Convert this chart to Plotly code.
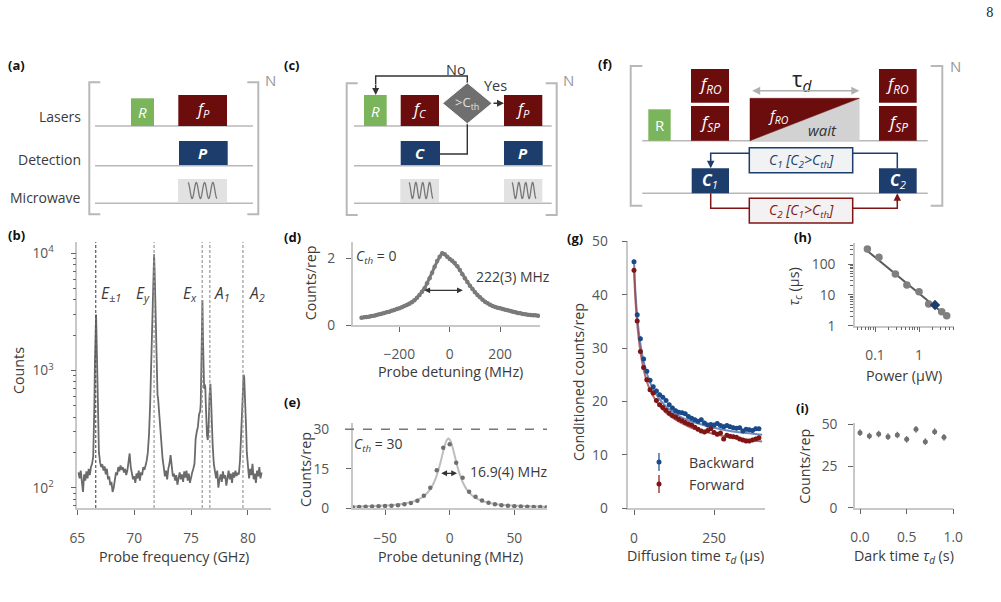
import plotly.graph_objects as go

W, H = 1001, 602
def px(x): return x / W
def py(y): return 1 - y / H

FONT = "Open Sans"
TICK_C = "#555555"
TITLE_C = "#3a3a3a"
SPINE_C = "#c8c8c8"
RED = "#6b0d0d"
NAVY = "#1d3d6d"
GREEN = "#7ab55c"
LGRAY = "#e2e2e2"
BGRAY = "#b8b8b8"
TSIZE = 14.3

# ---------------- data ----------------
# (b) spectrum
freq_ghz = [65.1, 65.2, 65.3, 65.4, 65.5, 65.6, 65.7, 65.8, 65.9, 66.0, 66.1, 66.2, 66.3,
            66.4, 66.45, 66.5, 66.55, 66.6, 66.65, 66.7, 66.75, 66.8, 66.85, 66.9, 67.0,
            67.1, 67.2, 67.3, 67.4, 67.5, 67.6, 67.7, 67.8, 67.9, 68.0, 68.1, 68.2, 68.3, 68.4,
            68.5, 68.6, 68.7, 68.8, 68.9, 69.0, 69.1, 69.2, 69.3, 69.4, 69.5, 69.6, 69.7, 69.8,
            69.9, 70.0, 70.1, 70.2, 70.3, 70.4, 70.5, 70.6, 70.7, 70.8, 70.9, 71.0, 71.1, 71.2,
            71.3, 71.4, 71.5, 71.55, 71.6, 71.65, 71.7, 71.75, 71.8, 71.85, 71.9, 71.95, 72.0,
            72.05, 72.1, 72.15, 72.2, 72.3, 72.4, 72.5, 72.6, 72.7, 72.8, 72.9, 73.0, 73.1, 73.2,
            73.3, 73.4, 73.5, 73.6, 73.7, 73.8, 73.9, 74.0, 74.1, 74.2, 74.3, 74.4, 74.5, 74.6,
            74.7, 74.8, 74.9, 75.0, 75.1, 75.2, 75.3, 75.35, 75.4, 75.5, 75.6, 75.7, 75.8, 75.85,
            75.9, 75.95, 76.0, 76.05, 76.1, 76.15, 76.2, 76.25, 76.3, 76.35, 76.4, 76.47, 76.55,
            76.62, 76.7, 76.75, 76.8, 76.85, 76.9, 77.0, 77.1, 77.2, 77.3, 77.4, 77.5, 77.6, 77.7,
            77.8, 77.9, 78.0, 78.1, 78.2, 78.3, 78.4, 78.5, 78.6, 78.7, 78.8, 78.9, 79.0, 79.1,
            79.2, 79.3, 79.38, 79.47, 79.55, 79.62, 79.67, 79.73, 79.79, 79.85, 79.9, 79.97,
            80.05, 80.1, 80.2, 80.3, 80.4, 80.5, 80.6, 80.7, 80.8, 80.9, 81.0, 81.1, 81.2]
counts = [135, 120, 140, 105, 92, 130, 115, 138, 120, 145, 128, 150, 160,
          185, 260, 500, 1200, 2500, 3000, 1800, 800, 450, 280, 200, 165,
          150, 158, 140, 152, 130, 145, 118, 125, 105, 112, 92, 100, 120, 135,
          128, 150, 138, 155, 142, 150, 135, 145, 128, 140, 165, 196, 150, 130,
          118, 125, 110, 132, 120, 140, 115, 135, 128, 150, 142, 155, 170, 200,
          280, 500, 1300, 2400, 4000, 6500, 9000, 9800, 7000, 4200, 2000, 1000, 680,
          620, 580, 500, 420, 300, 220, 175, 150, 125, 140, 118, 145, 160, 190,
          150, 125, 132, 115, 128, 106, 120, 135, 118, 130, 112, 138, 122, 140,
          115, 132, 110, 128, 135, 145, 160, 200, 260, 300, 330, 420, 450, 520,
          1000, 2500, 4000, 1800, 800, 700, 760, 720, 500, 350, 280, 255, 350,
          600, 770, 600, 400, 300, 230, 160, 135, 120, 140, 100, 118, 130, 112,
          138, 120, 128, 104, 125, 140, 118, 132, 110, 135, 122, 140, 126, 134,
          130, 170, 255, 460, 750, 920, 880, 650, 460, 300, 200, 150,
          135, 120, 145, 128, 160, 118, 132, 110, 140, 125, 150, 120, 135]
line_pos_ghz = [66.62, 71.75, 75.98, 76.65, 79.56]
line_colors = ["#555555", "#999999", "#999999", "#999999", "#999999"]

# (d) C_th = 0
det_d_mhz = [-350, -340, -330, -320, -310, -300, -290, -280, -270, -260, -250, -240, -230, -220,
             -210, -200, -190, -180, -170, -160, -150, -140, -130, -120, -110, -100, -90, -80,
             -70, -60, -50, -40, -30, -20, -10, 0, 10, 20, 30, 40, 50, 60, 70, 80, 90, 100, 110,
             120, 130, 140, 150, 160, 170, 180, 190, 200, 210, 220, 230, 240, 250, 260, 270, 280,
             290, 300, 310, 320, 330, 340, 350]
counts_d = [0.22, 0.23, 0.24, 0.25, 0.27, 0.28, 0.30, 0.32, 0.34, 0.36, 0.38, 0.40, 0.43, 0.45,
            0.48, 0.50, 0.53, 0.57, 0.60, 0.64, 0.68, 0.74, 0.82, 0.90, 1.00, 1.10, 1.25, 1.40,
            1.57, 1.75, 1.92, 2.05, 2.15, 2.12, 2.05, 1.98, 1.93, 1.86, 1.76, 1.65, 1.52, 1.40,
            1.29, 1.18, 1.08, 0.98, 0.90, 0.83, 0.76, 0.70, 0.65, 0.61, 0.57, 0.54, 0.52, 0.50,
            0.48, 0.46, 0.44, 0.42, 0.40, 0.38, 0.36, 0.35, 0.33, 0.32, 0.31, 0.30, 0.29, 0.29, 0.28]

# (e) C_th = 30
det_e_mhz = [-75, -70, -65, -60, -55, -50, -45, -40, -35, -30, -25, -20, -15, -10, -5, 0, 5,
             10, 15, 20, 25, 30, 35, 40, 45, 50, 55, 60, 65, 70, 75]
counts_e = [0.4, 0.5, 0.6, 0.7, 0.8, 0.9, 1.0, 1.2, 1.5, 2.0, 2.9, 4.8, 7.8, 14.5, 23.0, 24.3,
            17.3, 11.6, 6.3, 4.4, 3.0, 2.1, 1.5, 1.2, 1.0, 0.8, 0.7, 0.6, 0.5, 0.5, 0.4]
fit_e_mhz = [-75, -60, -50, -40, -30, -25, -20, -15, -12, -10, -8, -7, -6, -5, -4, -3, -2,
             -1, 0, 1, 2, 3, 4, 5, 6, 8, 10, 13, 18, 23, 28, 38, 48, 58, 75]
fit_e = [0.64, 0.83, 1.06, 1.47, 2.35, 3.2, 4.6, 7.3, 10.0, 12.6, 15.8, 17.7, 19.7, 21.7, 23.6,
         25.1, 26.1, 26.5, 26.1, 25.1, 23.6, 21.7, 19.7, 17.7, 15.8, 12.6, 10.0, 7.3, 4.6, 3.2,
         2.35, 1.47, 1.06, 0.83, 0.62]
c_th_line = 30

# (g) diffusion
tau_us = [0, 10, 20, 30, 40, 50, 60, 70, 80, 90, 100, 110, 120, 130, 140, 150, 160, 170, 180,
          190, 200, 210, 220, 230, 240, 250, 260, 270, 280, 290, 300, 310, 320, 330, 340, 350,
          360, 370, 380, 390]
backward = [46.2, 36.3, 31.8, 28.0, 25.7, 24.0, 22.8, 22.0, 21.3, 20.8, 20.2, 19.4, 18.8, 18.3,
            18.0, 17.9, 17.7, 17.2, 16.9, 16.6, 16.3, 16.6, 16.0, 15.6, 15.7, 15.6, 15.9, 15.5,
            15.3, 15.5, 15.3, 15.1, 15.0, 15.1, 14.5, 14.8, 14.7, 14.6, 14.9, 14.9]
forward = [44.6, 35.1, 29.4, 26.4, 24.1, 22.2, 21.6, 20.2, 19.4, 18.9, 18.4, 17.8, 17.4, 17.1,
           16.7, 16.4, 16.1, 15.8, 15.6, 15.2, 14.8, 14.5, 14.3, 14.6, 14.9, 14.2, 13.9, 14.1,
           13.0, 13.7, 13.5, 13.4, 13.3, 13.0, 12.8, 12.6, 12.6, 12.8, 13.0, 13.2]
fit_tau_us = [0, 5, 10, 15, 20, 30, 40, 50, 60, 80, 100, 125, 150, 175, 200, 250, 300, 350, 400]
fit_backward = [46.3, 40.0, 36.0, 33.0, 30.8, 27.5, 25.3, 23.6, 22.3, 20.4, 19.1, 17.9, 17.0,
                16.4, 15.9, 15.1, 14.5, 14.1, 13.8]
fit_forward = [44.6, 38.5, 34.6, 31.6, 29.3, 26.0, 23.8, 22.2, 21.0, 19.2, 17.9, 16.8, 15.9,
               15.2, 14.7, 13.9, 13.3, 12.9, 12.5]
err_g = 0.4

# (h) tau_c vs power
power_uw = [0.067, 0.123, 0.29, 0.53, 1.0, 1.66, 3.28, 4.26]
tau_c_us = [315, 169, 48, 21, 12.8, 5.1, 2.86, 2.12]
power_hl = [2.31]
tau_c_hl = [4.7]
fit_power = [0.063, 4.4]
fit_tau_c = [292, 1.96]

# (i) dark time
dark_s = [0.0, 0.1, 0.2, 0.3, 0.4, 0.5, 0.6, 0.7, 0.8, 0.9]
counts_i = [45.0, 43.0, 44.2, 42.6, 43.6, 41.0, 47.0, 39.6, 45.6, 42.2]
err_i = 2.0

# ---------------- traces ----------------
fig = go.Figure()
fig.add_trace(go.Scatter(x=freq_ghz, y=counts, mode="lines",
                         line=dict(color="#6a6a6a", width=1.8), xaxis="x", yaxis="y"))
fig.add_trace(go.Scatter(x=det_d_mhz, y=counts_d, mode="lines+markers",
                         line=dict(color="#7a7a7a", width=3), marker=dict(size=4.5, color="#7a7a7a"),
                         xaxis="x2", yaxis="y2"))
fig.add_trace(go.Scatter(x=fit_e_mhz, y=fit_e, mode="lines", line=dict(color="#bdbdbd", width=2),
                         line_shape="spline", xaxis="x3", yaxis="y3"))
fig.add_trace(go.Scatter(x=det_e_mhz, y=counts_e, mode="markers",
                         marker=dict(size=4.5, color="#707070"), xaxis="x3", yaxis="y3"))
fig.add_trace(go.Scatter(x=fit_tau_us, y=fit_backward, mode="lines", line_shape="spline",
                         line=dict(color="rgba(70,110,175,0.8)", width=2), xaxis="x4", yaxis="y4"))
fig.add_trace(go.Scatter(x=fit_tau_us, y=fit_forward, mode="lines", line_shape="spline",
                         line=dict(color="rgba(160,60,60,0.75)", width=2), xaxis="x4", yaxis="y4"))
fig.add_trace(go.Scatter(x=tau_us, y=backward, mode="markers",
                         marker=dict(size=5, color="#1a4a8a"),
                         error_y=dict(type="constant", value=err_g, color="#1a4a8a", thickness=1, width=0),
                         xaxis="x4", yaxis="y4"))
fig.add_trace(go.Scatter(x=tau_us, y=forward, mode="markers",
                         marker=dict(size=5, color="#7f1515"),
                         error_y=dict(type="constant", value=err_g, color="#7f1515", thickness=1, width=0),
                         xaxis="x4", yaxis="y4"))
fig.add_trace(go.Scatter(x=fit_power, y=fit_tau_c, mode="lines", line=dict(color="#5a5a5a", width=2),
                         xaxis="x5", yaxis="y5"))
fig.add_trace(go.Scatter(x=power_uw, y=tau_c_us, mode="markers", marker=dict(size=7.5, color="#808080"),
                         xaxis="x5", yaxis="y5"))
fig.add_trace(go.Scatter(x=power_hl, y=tau_c_hl, mode="markers",
                         marker=dict(size=8, color=NAVY, symbol="diamond"), xaxis="x5", yaxis="y5"))
fig.add_trace(go.Scatter(x=dark_s, y=counts_i, mode="markers", marker=dict(size=5, color="#707070"),
                         error_y=dict(type="constant", value=err_i, color="#707070", thickness=1.2, width=0),
                         xaxis="x6", yaxis="y6"))


def axis(dom, rng, anchor, tickvals, ticktext=None, typ="linear", minor=None, standoff=10):
    d = dict(domain=dom, range=rng, anchor=anchor, type=typ, showgrid=False, zeroline=False,
             showline=True, linecolor=SPINE_C, linewidth=1.5, ticks="outside", ticklen=5,
             tickwidth=1.2, tickcolor="#666666", tickmode="array", tickvals=tickvals,
             tickfont=dict(family=FONT, size=13.8, color=TICK_C), ticklabelstandoff=standoff,
             automargin=False)
    if ticktext is not None:
        d["ticktext"] = ticktext
    if minor is not None:
        d["minor"] = dict(tickmode="array", tickvals=minor, ticks="outside", ticklen=3,
                          tickwidth=1, tickcolor="#666666", showgrid=False)
    return d

XS, YS = 11, 8
layout_axes = dict(
    xaxis=axis([px(77.3), px(270.7)], [65, 82], "y", [65, 70, 75, 80], standoff=XS + 1),
    yaxis=axis([py(508), py(242)], [1.827, 4.096], "x", [100, 1000, 10000],
               ["10<sup>2</sup>", "10<sup>3</sup>", "10<sup>4</sup>"], typ="log",
               minor=[70, 80, 90, 200, 300, 400, 500, 600, 700, 800, 900,
                      2000, 3000, 4000, 5000, 6000, 7000, 8000, 9000], standoff=YS + 6),
    xaxis2=axis([px(352.7), px(540)], [-385, 358], "y2", [-200, 0, 200], standoff=XS),
    yaxis2=axis([py(325), py(241.7)], [0, 2.5], "x2", [0, 2], standoff=YS),
    xaxis3=axis([px(352.7), px(546.7)], [-75, 75], "y3", [-50, 0, 50], standoff=XS),
    yaxis3=axis([py(508.3), py(423.3)], [0, 32.3], "x3", [0, 15, 30], standoff=YS + 6),
    xaxis4=axis([px(628.3), px(765)], [-17.8, 409], "y4", [0, 250], standoff=XS),
    yaxis4=axis([py(508.3), py(241)], [0, 50.1], "x4", [0, 10, 20, 30, 40, 50], standoff=YS + 3),
    xaxis5=axis([px(855), px(954)], [-1.455, 0.795], "y5", [0.1, 1], ["0.1", "1"], typ="log",
                minor=[0.04, 0.05, 0.06, 0.07, 0.08, 0.09, 0.2, 0.3, 0.4, 0.5, 0.6, 0.7, 0.8, 0.9,
                       2, 3, 4, 5, 6], standoff=XS),
    yaxis5=axis([py(325.7), py(243.3)], [0, 2.68], "x5", [1, 10, 100], ["1", "10", "100"], typ="log",
                minor=[2, 3, 4, 5, 6, 7, 8, 9, 20, 30, 40, 50, 60, 70, 80, 90, 200, 300, 400],
                standoff=YS + 2),
    xaxis6=axis([px(855), px(953.3)], [-0.054, 1.0], "y6", [0, 0.5, 1.0], ["0.0", "0.5", "1.0"],
                standoff=XS),
    yaxis6=axis([py(507.7), py(423.3)], [0, 50.6], "x6", [0, 25, 50], standoff=YS),
)

ann = []
shapes = []

def T(x, y, text, size=TSIZE, color=TITLE_C, xa="center", ya="middle", angle=0, family=FONT):
    ann.append(dict(x=px(x), y=py(y), xref="paper", yref="paper", text=text, showarrow=False,
                    xanchor=xa, yanchor=ya, textangle=angle, borderpad=0,
                    font=dict(family=family, size=size, color=color)))

def ARROW(xh, yh, xt, yt, color="#333333", width=1.4, side="end", head=2, size=1.0):
    ann.append(dict(x=px(xh), y=py(yh), xref="paper", yref="paper", ax=xt - xh, ay=yt - yh,
                    axref="pixel", ayref="pixel", text="", showarrow=True, arrowhead=head,
                    arrowsize=size, arrowwidth=width, arrowcolor=color, arrowside=side,
                    standoff=0, startstandoff=0))

def RECT(x0, y0, x1, y1, fill, line=None, lw=0):
    shapes.append(dict(type="rect", xref="paper", yref="paper", x0=px(x0), x1=px(x1),
                       y0=py(y1), y1=py(y0), fillcolor=fill,
                       line=dict(color=line if line else fill, width=lw), layer="above"))

def PATH(pts, color, width=1.5, fill=None, close=False, dash=None):
    s = "M " + " L ".join(f"{px(a):.5f},{py(b):.5f}" for a, b in pts)
    if close:
        s += " Z"
    d = dict(type="path", xref="paper", yref="paper", path=s,
             line=dict(color=color, width=width), layer="above")
    if dash:
        d["line"]["dash"] = dash
    if fill:
        d["fillcolor"] = fill
    shapes.append(d)

def WAVE(x0, x1, yc, amp, cycles):
    import math
    n = 80
    pts = []
    for i in range(n + 1):
        t = i / n
        pts.append((x0 + (x1 - x0) * t, yc - amp * math.cos(2 * math.pi * cycles * t)))
    PATH(pts, "#777777", width=1.3)

def BRACKETS(xl, xr, yt, yb, tick=11, color=BGRAY):
    PATH([(xl + tick, yt), (xl, yt), (xl, yb), (xl + tick, yb)], color, width=2)
    PATH([(xr - tick, yt), (xr, yt), (xr, yb), (xr - tick, yb)], color, width=2)

# panel labels
for lab, x, y in [("(a)", 7, 65), ("(b)", 7, 235), ("(c)", 283, 65), ("(d)", 283, 237),
                  ("(e)", 283, 402), ("(f)", 597, 64), ("(g)", 566, 238), ("(h)", 793, 237),
                  ("(i)", 795, 408)]:
    T(x, y, f"<b>{lab}</b>", size=13, color="#111111", xa="left")

T(990, 13, "8", size=12, color="#222222", family="DejaVu Serif")

# ---- (a) diagram
BRACKETS(89.3, 258.3, 82.3, 214.3)
T(270, 80, "N", size=15, color="#999999")
for yy in [126, 165.7, 203.3]:
    PATH([(95, yy), (253, yy)], BGRAY, width=1.6)
T(82, 116, "Lasers", size=14, xa="right")
T(82, 160, "Detection", size=14, xa="right")
T(82, 197.7, "Microwave", size=14, xa="right")
RECT(131, 98.3, 154, 126, GREEN)
T(142.5, 112, "<i>R</i>", size=15, color="white")
RECT(178.3, 95, 227, 126, RED)
T(202.7, 110, "<i>f</i><sub><i>P</i></sub>", size=16, color="white")
RECT(179, 141, 227.7, 165, NAVY)
T(203.3, 153, "<b><i>P</i></b>", size=15, color="white")
RECT(178, 179, 227, 202.3, LGRAY)
WAVE(188, 217, 190.5, 8, 3.5)

# ---- (c) diagram
BRACKETS(346.7, 556.7, 83.3, 215)
T(568, 80, "N", size=15, color="#999999")
for yy in [126, 165.7, 203.3]:
    PATH([(354, yy), (551.7, yy)], BGRAY, width=1.6)
RECT(364, 95, 386.7, 126, GREEN)
T(375.3, 110.5, "<i>R</i>", size=15, color="white")
RECT(400.7, 95, 439, 126, RED)
T(419.8, 110, "<i>f</i><sub><i>C</i></sub>", size=16, color="white")
RECT(504, 95, 542.3, 126, RED)
T(523, 110, "<i>f</i><sub><i>P</i></sub>", size=16, color="white")
RECT(400.7, 141, 440, 165, NAVY)
T(420, 153, "<b><i>C</i></b>", size=15, color="white")
RECT(504, 141, 542.7, 165, NAVY)
T(523, 153, "<b><i>P</i></b>", size=15, color="white")
RECT(400.3, 179, 439, 202, LGRAY)
RECT(504, 179, 542.3, 202, LGRAY)
WAVE(409, 433, 190.5, 8, 3.5)
WAVE(512, 536, 190.5, 8, 3.5)
PATH([(440, 154), (467.3, 154), (467.3, 123.3)], "#333333", width=1.4)
PATH([(467.3, 83), (467.3, 76), (375.7, 76), (375.7, 84)], "#333333", width=1.4)
ARROW(375.7, 95, 375.7, 83)
ARROW(504, 103.3, 492, 103.3)
PATH([(467.3, 82.8), (492.1, 103.3), (467.3, 123.8), (442.5, 103.3)], "white", width=1,
     fill="#6f6f6f", close=True)
T(467.3, 103.3, "&gt;C<sub>th</sub>", size=13, color="#e0e0e0")
T(456, 69.3, "No", size=14.5)
T(495, 86, "Yes", size=14.5)

# ---- (f) diagram
BRACKETS(630.7, 942.3, 66, 205.7, tick=11.6)
T(955, 66, "N", size=15, color="#999999")
for yy in [140.7, 193.3]:
    PATH([(642.3, yy), (927.7, yy)], BGRAY, width=1.6)
RECT(648.3, 109.3, 670.7, 140.7, GREEN)
T(659.5, 125, "R", size=15, color="white")
for x0, x1 in [(691, 729), (879, 916.7)]:
    RECT(x0, 69, x1, 102.7, RED)
    RECT(x0, 106, x1, 140.7, RED)
    T((x0 + x1) / 2, 85, "<i>f</i><sub><i>RO</i></sub>", size=17, color="white")
    T((x0 + x1) / 2, 122, "<i>f</i><sub><i>SP</i></sub>", size=17, color="white")
PATH([(750, 140.7), (859.3, 98.3), (859.3, 140.7)], "#d2d2d2", width=0.5, fill="#d2d2d2", close=True)
PATH([(750, 98.3), (859.3, 98.3), (750, 140.7)], RED, width=0.5, fill=RED, close=True)
T(778, 116, "<i>f</i><sub><i>RO</i></sub>", size=15, color="white")
T(822, 130, "<i>wait</i>", size=15, color="#333333")
T(801.7, 80, "τ<sub><i>d</i></sub>", size=22, color="#222222")
ARROW(859.3, 90.7, 750.7, 90.7, color="#b0b0b0", width=1.6, side="end+start")
RECT(691.7, 168.3, 729, 193.3, NAVY)
T(710.3, 180.8, "<b><i>C</i></b><sub><i>1</i></sub>", size=16, color="white")
RECT(879, 168.3, 916.7, 193.3, NAVY)
T(897.8, 180.8, "<b><i>C</i></b><sub><i>2</i></sub>", size=16, color="white")
PATH([(897.3, 168.3), (897.3, 153.3), (710.7, 153.3), (710.7, 160)], NAVY, width=1.5)
ARROW(710.7, 168.3, 710.7, 158, color=NAVY, width=1.5)
PATH([(710.7, 193.3), (710.7, 208.3), (897.3, 208.3), (897.3, 201)], "#7f1515", width=1.5)
ARROW(897.3, 193.3, 897.3, 203, color="#7f1515", width=1.5)
RECT(749.3, 147.7, 852.7, 172.7, "#f1f2f3", line=NAVY, lw=1.5)
T(801, 160.2, "<i>C<sub>1</sub> [C<sub>2</sub>&gt;C<sub>th</sub>]</i>", size=14, color=NAVY)
RECT(749.3, 198.3, 852.7, 223, "#f3f1f1", line="#7f1515", lw=1.5)
T(801, 210.7, "<i>C<sub>2</sub> [C<sub>1</sub>&gt;C<sub>th</sub>]</i>", size=14, color="#7f1515")

# ---- (b) extras
for xv, col in zip(line_pos_ghz, line_colors):
    shapes.append(dict(type="line", xref="x", yref="y domain", x0=xv, x1=xv, y0=0, y1=1,
                       line=dict(color=col, width=1.2, dash="3px,2px"), layer="above"))
T(100, 293, "<i>E</i><sub><i>±1</i></sub>", size=15.5, xa="left")
T(135, 293, "<i>E</i><sub><i>y</i></sub>", size=15.5, xa="left")
T(181.7, 293, "<i>E</i><sub><i>x</i></sub>", size=15.5, xa="left")
T(213, 293, "<i>A</i><sub><i>1</i></sub>", size=15.5, xa="left")
T(248, 293, "<i>A</i><sub><i>2</i></sub>", size=15.5, xa="left")
T(173.8, 556.7, "Probe frequency (GHz)")
T(18.3, 370.8, "Counts", angle=-90)

# ---- (d) extras
T(355, 256.7, "<i>C</i><sub><i>th</i></sub> = 0", size=14, xa="left")
T(475, 276.7, "222(3) MHz", size=14, xa="left")
ann.append(dict(x=52, y=1.04, xref="x2", yref="y2", ax=-107, ay=1.04, axref="x2", ayref="y2",
                text="", showarrow=True, arrowhead=2, arrowsize=0.9, arrowwidth=1.3,
                arrowcolor="#333333", arrowside="end+start", standoff=0, startstandoff=0))
T(450, 371.7, "Probe detuning (MHz)")
T(310, 283.3, "Counts/rep", angle=-90)

# ---- (e) extras
shapes.append(dict(type="line", xref="paper", yref="y3", x0=px(345), x1=px(547),
                   y0=c_th_line, y1=c_th_line, line=dict(color="#777777", width=1.5, dash="dash"),
                   layer="above"))
T(353.3, 444.3, "<i>C</i><sub><i>th</i></sub> = 30", size=14, xa="left")
T(469.3, 471, "16.9(4) MHz", size=14, xa="left")
ann.append(dict(x=5.7, y=13.3, xref="x3", yref="y3", ax=-7.7, ay=13.3, axref="x3", ayref="y3",
                text="", showarrow=True, arrowhead=2, arrowsize=0.9, arrowwidth=1.3,
                arrowcolor="#333333", arrowside="end+start", standoff=0, startstandoff=0))
T(450, 556.7, "Probe detuning (MHz)")
T(305, 470, "Counts/rep", angle=-90)

# ---- (g) extras
for yy, col, name in [(462, "#1a4a8a", "Backward"), (484, "#7f1515", "Forward")]:
    PATH([(659, yy - 9), (659, yy + 9)], col, width=1.2)
    shapes.append(dict(type="circle", xref="paper", yref="paper", x0=px(656.5), x1=px(661.5),
                       y0=py(yy + 2.5), y1=py(yy - 2.5), fillcolor=col, line=dict(color=col, width=0),
                       layer="above"))
    T(688, yy, name, xa="left")
T(695, 556.7, "Diffusion time <i>τ<sub>d</sub></i> (µs)")
T(578.3, 381.7, "Conditioned counts/rep", angle=-90)

# ---- (h) extras
T(904, 375, "Power (µW)")
T(795, 286.7, "<i>τ<sub>c</sub></i> (µs)", angle=-90)

# ---- (i) extras
T(904, 556.7, "Dark time <i>τ<sub>d</sub></i> (s)")
T(805, 466.7, "Counts/rep", angle=-90)

fig.update_layout(width=W, height=H, margin=dict(l=0, r=0, t=0, b=0, pad=0), showlegend=False,
                  autosize=False, paper_bgcolor="white", plot_bgcolor="white",
                  annotations=ann, shapes=shapes, font=dict(family=FONT), **layout_axes)
fig.write_html("out.html",
               post_script="document.body.style.margin='0px';document.body.style.padding='0px';"
                           "document.body.style.overflow='hidden';")
